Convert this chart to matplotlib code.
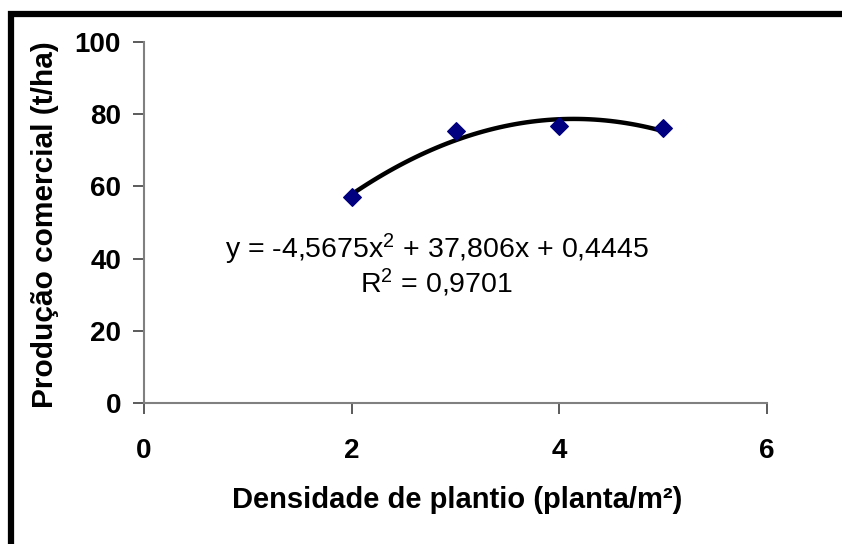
import numpy as np
import matplotlib.pyplot as plt
from matplotlib.patches import Rectangle

plt.rcParams['font.family'] = ['Liberation Sans', 'DejaVu Sans']
plt.rcParams['mathtext.fontset'] = 'custom'
plt.rcParams['mathtext.rm'] = 'Liberation Sans'
plt.rcParams['mathtext.it'] = 'Liberation Sans'

# data
densidade = [2, 3, 4, 5]
producao = [57.1, 75.3, 76.7, 76.2]

# polynomial trendline (coefficients as printed on the chart)
coef = [-4.5675, 37.806, 0.4445]

xticks = [0, 2, 4, 6]
yticks = [0, 20, 40, 60, 80, 100]

fig = plt.figure(figsize=(8.42, 5.44), dpi=100)
ax = fig.add_axes([0.171, 0.259, 0.740, 0.664])

# thick outer frame (continues past right and bottom edges)
fig.patches.append(Rectangle((11 / 842, -0.1), 1.2, 1 - 14 / 544 + 0.1,
                             transform=fig.transFigure, fill=False,
                             edgecolor='black', linewidth=4.5, zorder=10))

xs = np.linspace(min(densidade), max(densidade), 60)
ax.plot(xs, np.polyval(coef, xs), color='black', linewidth=3.2, zorder=2)
ax.scatter(densidade, producao, marker='D', s=80, color='#000080', zorder=3)

ax.set_xlim(0, 6)
ax.set_ylim(0, 100)
ax.set_xticks(xticks)
ax.set_yticks(yticks)

for side in ['top', 'right']:
    ax.spines[side].set_visible(False)
for side in ['left', 'bottom']:
    ax.spines[side].set_color('#808080')
    ax.spines[side].set_linewidth(1.5)

ax.tick_params(direction='out', length=8, width=1.2, color='#404040',
               labelsize=20)
ax.tick_params(axis='y', pad=8.5)
ax.tick_params(axis='x', pad=17)
for lab in ax.get_xticklabels() + ax.get_yticklabels():
    lab.set_fontweight('bold')

ax.set_xlabel('Densidade de plantio (planta/m²)', fontsize=21,
              fontweight='bold', va='center')
ax.xaxis.set_label_coords(0.502, -0.269)
ax.set_ylabel('Produção comercial (t/ha)', fontsize=21.5,
              fontweight='bold', va='center')
ax.yaxis.set_label_coords(-0.159, 0.493)

ax.text(2.82, 40.2, 'y = -4,5675x$^2$ + 37,806x + 0,4445', fontsize=20.5,
        ha='center', va='baseline')
ax.text(2.82, 30.5, 'R$^2$ = 0,9701', fontsize=20.5,
        ha='center', va='baseline')

fig.savefig('out.png', dpi=100)
